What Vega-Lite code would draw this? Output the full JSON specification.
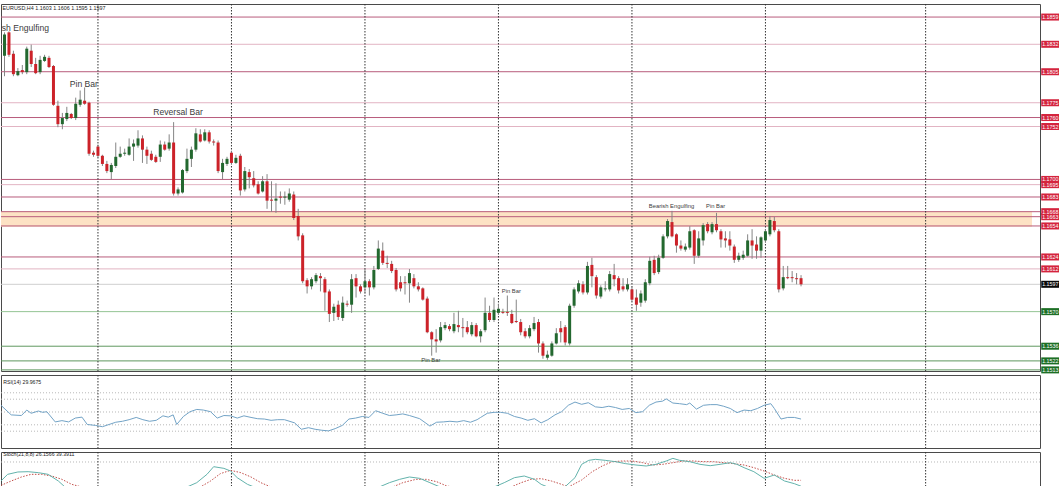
{
"$schema":"https://vega.github.io/schema/vega-lite/v6.json",
"padding":{"left":0,"top":3,"right":0,"bottom":0},
"background":"white",
"bounds":"flush",
"spacing":4,
"config":{"view":{"stroke":"#4a4a4a","strokeWidth":1},"text":{"font":"Liberation Sans"},"axis":{"labelFont":"Liberation Sans"}},
"datasets":{
"candles":[
{"i":0,"o":1.1821,"h":1.1844,"l":1.1801,"c":1.1842},{"i":1,"o":1.1844,"h":1.1845,"l":1.1820,"c":1.1822},{"i":2,"o":1.1823,"h":1.1826,"l":1.1801,"c":1.1803},{"i":3,"o":1.1802,"h":1.1809,"l":1.1801,"c":1.1806},{"i":4,"o":1.1807,"h":1.1812,"l":1.1803,"c":1.1805},{"i":5,"o":1.1805,"h":1.1830,"l":1.1803,"c":1.1828},{"i":6,"o":1.1826,"h":1.1832,"l":1.1810,"c":1.1813},{"i":7,"o":1.1813,"h":1.1819,"l":1.1803,"c":1.1804},{"i":8,"o":1.1805,"h":1.1821,"l":1.1803,"c":1.1817},{"i":9,"o":1.1816,"h":1.1822,"l":1.1815,"c":1.1820},
{"i":10,"o":1.1819,"h":1.1821,"l":1.1809,"c":1.1810},{"i":11,"o":1.1811,"h":1.1812,"l":1.1772,"c":1.1773},{"i":12,"o":1.1772,"h":1.1777,"l":1.1751,"c":1.1754},{"i":13,"o":1.1754,"h":1.1765,"l":1.1749,"c":1.1760},{"i":14,"o":1.1759,"h":1.1771,"l":1.1757,"c":1.1765},{"i":15,"o":1.1764,"h":1.1765,"l":1.1759,"c":1.1760},{"i":16,"o":1.1760,"h":1.1780,"l":1.1758,"c":1.1774},{"i":17,"o":1.1773,"h":1.1787,"l":1.1771,"c":1.1778},{"i":18,"o":1.1777,"h":1.1790,"l":1.1773,"c":1.1774},{"i":19,"o":1.1775,"h":1.1776,"l":1.1723,"c":1.1725},
{"i":20,"o":1.1726,"h":1.1728,"l":1.1722,"c":1.1724},{"i":21,"o":1.1732,"h":1.1734,"l":1.1721,"c":1.1723},{"i":22,"o":1.1723,"h":1.1724,"l":1.1713,"c":1.1715},{"i":23,"o":1.1715,"h":1.1718,"l":1.1706,"c":1.1708},{"i":24,"o":1.1707,"h":1.1716,"l":1.1700,"c":1.1714},{"i":25,"o":1.1713,"h":1.1736,"l":1.1711,"c":1.1722},{"i":26,"o":1.1722,"h":1.1732,"l":1.1721,"c":1.1725},{"i":27,"o":1.1725,"h":1.1730,"l":1.1723,"c":1.1726},{"i":28,"o":1.1724,"h":1.1740,"l":1.1723,"c":1.1732},{"i":29,"o":1.1732,"h":1.1739,"l":1.1718,"c":1.1735},
{"i":30,"o":1.1733,"h":1.1748,"l":1.1731,"c":1.1740},{"i":31,"o":1.1740,"h":1.1743,"l":1.1716,"c":1.1729},{"i":32,"o":1.1729,"h":1.1732,"l":1.1715,"c":1.1723},{"i":33,"o":1.1725,"h":1.1728,"l":1.1718,"c":1.1719},{"i":34,"o":1.1722,"h":1.1724,"l":1.1716,"c":1.1717},{"i":35,"o":1.1722,"h":1.1738,"l":1.1717,"c":1.1734},{"i":36,"o":1.1734,"h":1.1737,"l":1.1728,"c":1.1729},{"i":37,"o":1.1730,"h":1.1744,"l":1.1728,"c":1.1736},{"i":38,"o":1.1736,"h":1.1756,"l":1.1684,"c":1.1686},{"i":39,"o":1.1686,"h":1.1692,"l":1.1684,"c":1.1690},
{"i":40,"o":1.1687,"h":1.1710,"l":1.1686,"c":1.1709},{"i":41,"o":1.1708,"h":1.1730,"l":1.1706,"c":1.1720},{"i":42,"o":1.1720,"h":1.1732,"l":1.1712,"c":1.1729},{"i":43,"o":1.1729,"h":1.1750,"l":1.1727,"c":1.1745},{"i":44,"o":1.1744,"h":1.1749,"l":1.1736,"c":1.1737},{"i":45,"o":1.1738,"h":1.1749,"l":1.1737,"c":1.1746},{"i":46,"o":1.1746,"h":1.1748,"l":1.1735,"c":1.1737},{"i":47,"o":1.1737,"h":1.1739,"l":1.1733,"c":1.1736},{"i":48,"o":1.1736,"h":1.1738,"l":1.1706,"c":1.1708},{"i":49,"o":1.1707,"h":1.1720,"l":1.1700,"c":1.1716},
{"i":50,"o":1.1715,"h":1.1722,"l":1.1713,"c":1.1720},{"i":51,"o":1.1726,"h":1.1728,"l":1.1715,"c":1.1716},{"i":52,"o":1.1716,"h":1.1724,"l":1.1715,"c":1.1721},{"i":53,"o":1.1723,"h":1.1725,"l":1.1684,"c":1.1689},{"i":54,"o":1.1690,"h":1.1712,"l":1.1688,"c":1.1708},{"i":55,"o":1.1707,"h":1.1710,"l":1.1691,"c":1.1702},{"i":56,"o":1.1701,"h":1.1708,"l":1.1692,"c":1.1694},{"i":57,"o":1.1695,"h":1.1698,"l":1.1685,"c":1.1686},{"i":58,"o":1.1688,"h":1.1703,"l":1.1687,"c":1.1698},{"i":59,"o":1.1698,"h":1.1705,"l":1.1671,"c":1.1679},
{"i":60,"o":1.1680,"h":1.1698,"l":1.1668,"c":1.1679},{"i":61,"o":1.1679,"h":1.1696,"l":1.1667,"c":1.1681},{"i":62,"o":1.1683,"h":1.1688,"l":1.1676,"c":1.1682},{"i":63,"o":1.1682,"h":1.1688,"l":1.1675,"c":1.1683},{"i":64,"o":1.1680,"h":1.1691,"l":1.1678,"c":1.1686},{"i":65,"o":1.1685,"h":1.1688,"l":1.1660,"c":1.1662},{"i":66,"o":1.1664,"h":1.1671,"l":1.1640,"c":1.1644},{"i":67,"o":1.1645,"h":1.1647,"l":1.1598,"c":1.1600},{"i":68,"o":1.1601,"h":1.1603,"l":1.1588,"c":1.1595},{"i":69,"o":1.1595,"h":1.1604,"l":1.1592,"c":1.1602},
{"i":70,"o":1.1600,"h":1.1608,"l":1.1598,"c":1.1606},{"i":71,"o":1.1605,"h":1.1608,"l":1.1590,"c":1.1603},{"i":72,"o":1.1602,"h":1.1604,"l":1.1571,"c":1.1589},{"i":73,"o":1.1590,"h":1.1592,"l":1.1560,"c":1.1568},{"i":74,"o":1.1569,"h":1.1578,"l":1.1561,"c":1.1575},{"i":75,"o":1.1577,"h":1.1581,"l":1.1562,"c":1.1565},{"i":76,"o":1.1564,"h":1.1585,"l":1.1561,"c":1.1579},{"i":77,"o":1.1578,"h":1.1581,"l":1.1575,"c":1.1577},{"i":78,"o":1.1577,"h":1.1607,"l":1.1569,"c":1.1602},{"i":79,"o":1.1603,"h":1.1607,"l":1.1584,"c":1.1595},
{"i":80,"o":1.1595,"h":1.1597,"l":1.1588,"c":1.1590},{"i":81,"o":1.1594,"h":1.1612,"l":1.1588,"c":1.1600},{"i":82,"o":1.1600,"h":1.1602,"l":1.1586,"c":1.1594},{"i":83,"o":1.1594,"h":1.1615,"l":1.1592,"c":1.1611},{"i":84,"o":1.1612,"h":1.1640,"l":1.1611,"c":1.1632},{"i":85,"o":1.1630,"h":1.1638,"l":1.1616,"c":1.1618},{"i":86,"o":1.1618,"h":1.1625,"l":1.1613,"c":1.1617},{"i":87,"o":1.1617,"h":1.1620,"l":1.1608,"c":1.1610},{"i":88,"o":1.1611,"h":1.1613,"l":1.1590,"c":1.1592},{"i":89,"o":1.1599,"h":1.1605,"l":1.1590,"c":1.1593},
{"i":90,"o":1.1599,"h":1.1605,"l":1.1587,"c":1.1598},{"i":91,"o":1.1598,"h":1.1612,"l":1.1579,"c":1.1608},{"i":92,"o":1.1603,"h":1.1607,"l":1.1593,"c":1.1595},{"i":93,"o":1.1595,"h":1.1599,"l":1.1590,"c":1.1592},{"i":94,"o":1.1593,"h":1.1594,"l":1.1581,"c":1.1582},{"i":95,"o":1.1583,"h":1.1585,"l":1.1549,"c":1.1550},{"i":96,"o":1.1550,"h":1.1551,"l":1.1527,"c":1.1543},{"i":97,"o":1.1543,"h":1.1553,"l":1.1530,"c":1.1541},{"i":98,"o":1.1542,"h":1.1560,"l":1.1540,"c":1.1555},{"i":99,"o":1.1554,"h":1.1560,"l":1.1552,"c":1.1557},
{"i":100,"o":1.1556,"h":1.1558,"l":1.1551,"c":1.1553},{"i":101,"o":1.1551,"h":1.1569,"l":1.1549,"c":1.1558},{"i":102,"o":1.1557,"h":1.1571,"l":1.1550,"c":1.1555},{"i":103,"o":1.1555,"h":1.1564,"l":1.1545,"c":1.1554},{"i":104,"o":1.1555,"h":1.1561,"l":1.1548,"c":1.1550},{"i":105,"o":1.1548,"h":1.1560,"l":1.1546,"c":1.1557},{"i":106,"o":1.1557,"h":1.1559,"l":1.1545,"c":1.1546},{"i":107,"o":1.1546,"h":1.1553,"l":1.1540,"c":1.1551},{"i":108,"o":1.1552,"h":1.1584,"l":1.1550,"c":1.1569},{"i":109,"o":1.1569,"h":1.1576,"l":1.1560,"c":1.1562},
{"i":110,"o":1.1562,"h":1.1584,"l":1.1560,"c":1.1572},{"i":111,"o":1.1569,"h":1.1578,"l":1.1567,"c":1.1573},{"i":112,"o":1.1570,"h":1.1573,"l":1.1568,"c":1.1569},{"i":113,"o":1.1570,"h":1.1586,"l":1.1566,"c":1.1569},{"i":114,"o":1.1568,"h":1.1572,"l":1.1558,"c":1.1559},{"i":115,"o":1.1561,"h":1.1582,"l":1.1559,"c":1.1560},{"i":116,"o":1.1560,"h":1.1563,"l":1.1547,"c":1.1550},{"i":117,"o":1.1551,"h":1.1554,"l":1.1544,"c":1.1546},{"i":118,"o":1.1546,"h":1.1557,"l":1.1544,"c":1.1554},{"i":119,"o":1.1553,"h":1.1565,"l":1.1551,"c":1.1559},
{"i":120,"o":1.1560,"h":1.1563,"l":1.1530,"c":1.1539},{"i":121,"o":1.1539,"h":1.1541,"l":1.1524,"c":1.1527},{"i":122,"o":1.1525,"h":1.1532,"l":1.1523,"c":1.1528},{"i":123,"o":1.1527,"h":1.1541,"l":1.1526,"c":1.1539},{"i":124,"o":1.1539,"h":1.1554,"l":1.1538,"c":1.1549},{"i":125,"o":1.1554,"h":1.1561,"l":1.1540,"c":1.1550},{"i":126,"o":1.1555,"h":1.1557,"l":1.1537,"c":1.1540},{"i":127,"o":1.1539,"h":1.1578,"l":1.1537,"c":1.1576},{"i":128,"o":1.1576,"h":1.1594,"l":1.1574,"c":1.1592},{"i":129,"o":1.1590,"h":1.1601,"l":1.1588,"c":1.1598},
{"i":130,"o":1.1597,"h":1.1600,"l":1.1587,"c":1.1589},{"i":131,"o":1.1589,"h":1.1619,"l":1.1587,"c":1.1615},{"i":132,"o":1.1616,"h":1.1623,"l":1.1594,"c":1.1605},{"i":133,"o":1.1604,"h":1.1606,"l":1.1583,"c":1.1586},{"i":134,"o":1.1585,"h":1.1596,"l":1.1583,"c":1.1594},{"i":135,"o":1.1592,"h":1.1600,"l":1.1590,"c":1.1593},{"i":136,"o":1.1592,"h":1.1610,"l":1.1590,"c":1.1607},{"i":137,"o":1.1606,"h":1.1617,"l":1.1595,"c":1.1602},{"i":138,"o":1.1603,"h":1.1605,"l":1.1588,"c":1.1591},{"i":139,"o":1.1595,"h":1.1603,"l":1.1590,"c":1.1592},
{"i":140,"o":1.1592,"h":1.1603,"l":1.1590,"c":1.1597},{"i":141,"o":1.1592,"h":1.1595,"l":1.1580,"c":1.1582},{"i":142,"o":1.1584,"h":1.1592,"l":1.1571,"c":1.1577},{"i":143,"o":1.1579,"h":1.1591,"l":1.1575,"c":1.1588},{"i":144,"o":1.1581,"h":1.1602,"l":1.1579,"c":1.1599},{"i":145,"o":1.1598,"h":1.1624,"l":1.1596,"c":1.1620},{"i":146,"o":1.1621,"h":1.1625,"l":1.1606,"c":1.1608},{"i":147,"o":1.1609,"h":1.1626,"l":1.1607,"c":1.1623},{"i":148,"o":1.1623,"h":1.1646,"l":1.1622,"c":1.1644},{"i":149,"o":1.1644,"h":1.1661,"l":1.1642,"c":1.1659},
{"i":150,"o":1.1658,"h":1.1669,"l":1.1643,"c":1.1644},{"i":151,"o":1.1646,"h":1.1647,"l":1.1628,"c":1.1635},{"i":152,"o":1.1635,"h":1.1640,"l":1.1630,"c":1.1632},{"i":153,"o":1.1631,"h":1.1637,"l":1.1629,"c":1.1634},{"i":154,"o":1.1633,"h":1.1654,"l":1.1631,"c":1.1649},{"i":155,"o":1.1650,"h":1.1651,"l":1.1617,"c":1.1625},{"i":156,"o":1.1625,"h":1.1649,"l":1.1623,"c":1.1642},{"i":157,"o":1.1640,"h":1.1657,"l":1.1635,"c":1.1655},{"i":158,"o":1.1656,"h":1.1658,"l":1.1647,"c":1.1649},{"i":159,"o":1.1648,"h":1.1658,"l":1.1646,"c":1.1656},
{"i":160,"o":1.1656,"h":1.1667,"l":1.1648,"c":1.1650},{"i":161,"o":1.1649,"h":1.1651,"l":1.1633,"c":1.1641},{"i":162,"o":1.1642,"h":1.1649,"l":1.1633,"c":1.1640},{"i":163,"o":1.1641,"h":1.1649,"l":1.1630,"c":1.1635},{"i":164,"o":1.1634,"h":1.1636,"l":1.1618,"c":1.1621},{"i":165,"o":1.1621,"h":1.1628,"l":1.1619,"c":1.1625},{"i":166,"o":1.1623,"h":1.1630,"l":1.1621,"c":1.1626},{"i":167,"o":1.1625,"h":1.1646,"l":1.1624,"c":1.1640},{"i":168,"o":1.1640,"h":1.1651,"l":1.1622,"c":1.1635},{"i":169,"o":1.1636,"h":1.1644,"l":1.1622,"c":1.1630},
{"i":170,"o":1.1630,"h":1.1644,"l":1.1623,"c":1.1643},{"i":171,"o":1.1640,"h":1.1651,"l":1.1638,"c":1.1649},{"i":172,"o":1.1646,"h":1.1664,"l":1.1644,"c":1.1660},{"i":173,"o":1.1659,"h":1.1663,"l":1.1648,"c":1.1650},{"i":174,"o":1.1649,"h":1.1651,"l":1.1589,"c":1.1592},{"i":175,"o":1.1593,"h":1.1615,"l":1.1591,"c":1.1604},{"i":176,"o":1.1604,"h":1.1615,"l":1.1602,"c":1.1603},{"i":177,"o":1.1604,"h":1.1610,"l":1.1599,"c":1.1603},{"i":178,"o":1.1603,"h":1.1608,"l":1.1597,"c":1.1602},{"i":179,"o":1.1603,"h":1.1606,"l":1.1595,"c":1.1597}
],
"levels":[
{"p":1.1859,"lbl":"1.1859","kind":"resistance-major"},{"p":1.18323,"lbl":"1.1832","kind":"resistance-minor"},{"p":1.18054,"lbl":"1.1805","kind":"resistance-major"},{"p":1.1775,"lbl":"1.1775","kind":"resistance-minor"},{"p":1.17605,"lbl":"1.1760","kind":"resistance-major"},{"p":1.17517,"lbl":"1.1752","kind":"resistance-minor"},{"p":1.16998,"lbl":"1.1700","kind":"resistance-major"},{"p":1.16947,"lbl":"1.1695","kind":"resistance-minor"},{"p":1.16826,"lbl":"1.1683","kind":"resistance-major"},{"p":1.16682,"lbl":"1.1668","kind":"resistance-major"},{"p":1.16633,"lbl":"1.1663","kind":"resistance-major"},{"p":1.16542,"lbl":"1.1654","kind":"resistance-major"},{"p":1.16238,"lbl":"1.1624","kind":"resistance-major"},{"p":1.16121,"lbl":"1.1612","kind":"resistance-minor"},{"p":1.1597,"lbl":"1.1597","kind":"price"},{"p":1.15702,"lbl":"1.1570","kind":"support-minor"},{"p":1.15363,"lbl":"1.1536","kind":"support-major"},{"p":1.15219,"lbl":"1.1522","kind":"support-major"},{"p":1.15131,"lbl":"1.1513","kind":"support-major"}
],
"grid":[{"g":21},{"g":51},{"g":81},{"g":111},{"g":141},{"g":171},{"g":207}],
"zone":[{"x0":-0.79,"x1":230.9,"p0":1.16535,"p1":1.16686}],
"notesBig":[{"i":2.45,"p":1.18482,"t":"Bearish Engulfing"},{"i":17.83,"p":1.17937,"t":"Pin Bar"},{"i":39.0,"p":1.17659,"t":"Reversal Bar"}],
"notesSmall":[{"i":149.9,"p":1.16738,"t":"Bearish Engulfing"},{"i":159.8,"p":1.16738,"t":"Pin Bar"},{"i":113.9,"p":1.15908,"t":"Pin Bar"},{"i":95.8,"p":1.15232,"t":"Pin Bar"}],
"title":[{"i":-0.45,"p":1.18678,"t":"EURUSD,H4  1.1603 1.1606 1.1595 1.1597"}],
"rsi":[{"i":-0.8,"v":60.5},{"i":1.5,"v":45.5},{"i":3.8,"v":44.5},{"i":5,"v":53},{"i":6,"v":48},{"i":7.6,"v":51.5},{"i":8.6,"v":49.5},{"i":9.5,"v":50.5},{"i":11.4,"v":34.5},{"i":12.9,"v":36.5},{"i":14.4,"v":34.5},{"i":15.9,"v":40.5},{"i":17.4,"v":42},{"i":18.6,"v":30.5},{"i":20.5,"v":29},{"i":22,"v":27},{"i":23.5,"v":30.5},{"i":25,"v":34},{"i":26.5,"v":35.5},{"i":28,"v":38},{"i":29.6,"v":41.5},{"i":31.1,"v":38},{"i":32.6,"v":35.5},{"i":34.1,"v":37},{"i":35.6,"v":44},{"i":36.8,"v":42},{"i":37.9,"v":45.5},{"i":38.7,"v":30.5},{"i":40.2,"v":43},{"i":41.7,"v":50.5},{"i":43.2,"v":54},{"i":44.7,"v":53},{"i":46.3,"v":50.5},{"i":47.8,"v":40.5},{"i":49.3,"v":44.5},{"i":50.8,"v":44},{"i":52.3,"v":40.5},{"i":53.8,"v":44},{"i":55.4,"v":41.5},{"i":56.9,"v":39.5},{"i":58.4,"v":39},{"i":59.9,"v":37},{"i":61.4,"v":38},{"i":62.9,"v":38},{"i":65.2,"v":33},{"i":66.7,"v":23},{"i":68.3,"v":25.5},{"i":69.8,"v":23},{"i":71.3,"v":21.5},{"i":72.8,"v":20.5},{"i":74.3,"v":24},{"i":75.9,"v":29},{"i":77.4,"v":39},{"i":78.9,"v":40.5},{"i":80.4,"v":43},{"i":81.9,"v":41.5},{"i":83.4,"v":52},{"i":85,"v":48},{"i":86.5,"v":44.5},{"i":88,"v":45.5},{"i":89.5,"v":47},{"i":91,"v":44.5},{"i":93.3,"v":39.5},{"i":95.6,"v":28},{"i":97.1,"v":34},{"i":98.6,"v":34.5},{"i":100.1,"v":35.5},{"i":101.7,"v":34.5},{"i":103.2,"v":36.5},{"i":104.7,"v":34},{"i":106.2,"v":38},{"i":107,"v":41.5},{"i":108.5,"v":48},{"i":110,"v":49.5},{"i":111.5,"v":49.5},{"i":113,"v":48},{"i":114.6,"v":43},{"i":116.1,"v":40.5},{"i":117.6,"v":37},{"i":119.1,"v":39.5},{"i":120.6,"v":33},{"i":122.1,"v":38},{"i":123.7,"v":45.5},{"i":125.2,"v":50.5},{"i":126.7,"v":60.5},{"i":128.2,"v":65.5},{"i":129.7,"v":62},{"i":131.2,"v":64.5},{"i":132.8,"v":58},{"i":134.3,"v":57},{"i":135.8,"v":59},{"i":137.3,"v":57},{"i":138.8,"v":54},{"i":140.4,"v":55.5},{"i":141.9,"v":49},{"i":143.4,"v":50.5},{"i":144.9,"v":60.5},{"i":146.4,"v":65.5},{"i":147.9,"v":67},{"i":148.7,"v":70.5},{"i":150.2,"v":64},{"i":151.7,"v":63},{"i":153.3,"v":61.5},{"i":154,"v":64},{"i":155.5,"v":54.5},{"i":157.1,"v":60.5},{"i":158.6,"v":61.5},{"i":160.1,"v":61.5},{"i":161.6,"v":59},{"i":163.1,"v":55.5},{"i":164.6,"v":49},{"i":166.2,"v":53},{"i":167.7,"v":52},{"i":169.2,"v":55.5},{"i":170.7,"v":60.5},{"i":172.2,"v":63},{"i":173,"v":55.5},{"i":174.5,"v":39},{"i":176,"v":41.5},{"i":177.5,"v":41.5},{"i":179,"v":39}],
"stochMain":[{"i":-0.8,"v":37.8},{"i":0.7,"v":52.6},{"i":3,"v":57.8},{"i":5.3,"v":58.5},{"i":7.6,"v":56.3},{"i":9.8,"v":52.6},{"i":12.1,"v":37.8},{"i":13.6,"v":24.4},{"i":15.9,"v":15},{"i":20.5,"v":8},{"i":26.5,"v":6},{"i":34.1,"v":12},{"i":38.7,"v":18},{"i":41,"v":24.4},{"i":43.2,"v":34.1},{"i":45.5,"v":52.6},{"i":47,"v":69.6},{"i":49.3,"v":65.9},{"i":50.8,"v":60},{"i":52.3,"v":45.2},{"i":54.6,"v":30.4},{"i":56.1,"v":24.4},{"i":60,"v":15},{"i":66,"v":6},{"i":72,"v":2},{"i":78,"v":5},{"i":82,"v":14},{"i":84.2,"v":24.4},{"i":86.5,"v":34.1},{"i":88.8,"v":41.5},{"i":91,"v":46.7},{"i":93.3,"v":43.7},{"i":95.6,"v":34.1},{"i":97.9,"v":24.4},{"i":101,"v":16},{"i":104,"v":14},{"i":107,"v":18},{"i":110,"v":24.4},{"i":112.3,"v":34.1},{"i":114.6,"v":45.2},{"i":116.8,"v":48.9},{"i":119.1,"v":41.5},{"i":120.6,"v":30.4},{"i":122.1,"v":24.4},{"i":124,"v":18},{"i":125.9,"v":24.4},{"i":128.2,"v":45.2},{"i":129.7,"v":74.8},{"i":131.3,"v":83.7},{"i":132.8,"v":85.9},{"i":135,"v":83.7},{"i":137.3,"v":80.7},{"i":139.6,"v":76.3},{"i":141.9,"v":73.3},{"i":144.2,"v":71.1},{"i":146.4,"v":74.8},{"i":148.7,"v":82.2},{"i":150.2,"v":88.1},{"i":151.7,"v":83.7},{"i":154,"v":80.7},{"i":156.3,"v":74.8},{"i":158.6,"v":71.8},{"i":160.8,"v":74.8},{"i":163.1,"v":78.5},{"i":164.6,"v":74.8},{"i":166.2,"v":67.4},{"i":168.4,"v":58.5},{"i":170.7,"v":43.7},{"i":173,"v":51.1},{"i":175.3,"v":37.8},{"i":177.5,"v":31.9},{"i":179,"v":26.2}],
"stochSignal":[{"i":-0.8,"v":28},{"i":1.5,"v":37.8},{"i":3.8,"v":46.7},{"i":6,"v":52.6},{"i":8.3,"v":52.6},{"i":10.6,"v":48.9},{"i":12.9,"v":41.5},{"i":15.1,"v":30.4},{"i":17.4,"v":24.4},{"i":22,"v":14},{"i":30,"v":9},{"i":38,"v":10},{"i":44,"v":24.4},{"i":46.3,"v":37.8},{"i":48.5,"v":54.1},{"i":50.8,"v":61.5},{"i":53.1,"v":56.3},{"i":55.4,"v":46.7},{"i":57.6,"v":34.1},{"i":59.9,"v":24.4},{"i":66,"v":12},{"i":74,"v":6},{"i":82,"v":9},{"i":87.2,"v":24.4},{"i":89.5,"v":34.1},{"i":92.5,"v":41.5},{"i":94.8,"v":41.5},{"i":97.1,"v":36.3},{"i":99.4,"v":26.7},{"i":100.9,"v":24.4},{"i":106,"v":18},{"i":110,"v":19},{"i":113.8,"v":24.4},{"i":116.1,"v":34.1},{"i":118.3,"v":41.5},{"i":120.6,"v":43},{"i":122.9,"v":37.8},{"i":125.2,"v":30.4},{"i":126.7,"v":24.4},{"i":129.7,"v":40},{"i":132,"v":58},{"i":134.3,"v":71.1},{"i":136.6,"v":80.7},{"i":138.8,"v":82.2},{"i":141.1,"v":82.2},{"i":143.4,"v":78.5},{"i":145.7,"v":73.3},{"i":147.9,"v":74.8},{"i":150.2,"v":78.5},{"i":152.5,"v":82.2},{"i":154.8,"v":82.2},{"i":157.1,"v":80.7},{"i":159.3,"v":80.7},{"i":161.6,"v":78.5},{"i":163.9,"v":76.3},{"i":166.2,"v":73.3},{"i":168.4,"v":67.4},{"i":170.7,"v":60},{"i":173,"v":51.1},{"i":175.3,"v":43.7},{"i":177.5,"v":39.3},{"i":179,"v":39.4}]
},
"vconcat":[
{"width":1039,"height":367,
"layer":[
{"data":{"name":"zone"},"mark":{"type":"rect","color":"#fde2c4"},
"encoding":{"x":{"field":"x0","type":"quantitative","scale":{"domain":[-0.79,232.7],"nice":false,"zero":false,"padding":0},"axis":null},"x2":{"field":"x1"},
"y":{"field":"p0","type":"quantitative","scale":{"domain":[1.1512,1.18718],"nice":false,"zero":false,"padding":0},"axis":null},"y2":{"field":"p1"}}},
{"data":{"name":"levels"},"mark":{"type":"rule"},
"encoding":{"y":{"field":"p","type":"quantitative","scale":{"domain":[1.1512,1.18718],"nice":false,"zero":false,"padding":0},
"axis":{"orient":"right","title":null,"values":[1.1535,1.1555,1.1575,1.1595,1.1615,1.1635,1.1655,1.1675,1.1695,1.1715,1.1735,1.1755,1.1775,1.1795,1.1815,1.1835,1.1855],"format":".4f","domain":false,"grid":false,"ticks":true,"tickSize":2,"tickColor":"#555","labelFontSize":5.4,"labelColor":"#333","labelPadding":1,"labelOverlap":false,"labelBound":false,"labelFlush":false}},
"color":{"field":"kind","type":"nominal","scale":{"domain":["resistance-major","resistance-minor","price","support-minor","support-major"],"range":["#b85c7c","#e2b4c3","#cfcfcf","#94c494","#5f985f"]},"legend":null},
"strokeWidth":{"field":"kind","type":"ordinal","scale":{"domain":["resistance-major","resistance-minor","price","support-minor","support-major"],"range":[1,1,1,2,1]},"legend":null}}},
{"data":{"name":"grid"},"mark":{"type":"rule","color":"#333","strokeDash":[1.5,1.5],"strokeWidth":1},
"encoding":{"x":{"field":"g","type":"quantitative","scale":{"domain":[-0.79,232.7],"nice":false,"zero":false,"padding":0},"axis":null}}},
{"data":{"name":"candles"},"mark":{"type":"rule","color":"#858585","strokeWidth":1},
"encoding":{"x":{"field":"i","type":"quantitative","scale":{"domain":[-0.79,232.7],"nice":false,"zero":false,"padding":0},"axis":null},
"y":{"field":"l","type":"quantitative","scale":{"domain":[1.1512,1.18718],"nice":false,"zero":false,"padding":0},"axis":null},"y2":{"field":"h"}}},
{"data":{"name":"candles"},"mark":{"type":"bar","width":3},
"encoding":{"x":{"field":"i","type":"quantitative","scale":{"domain":[-0.79,232.7],"nice":false,"zero":false,"padding":0},"axis":null},
"y":{"field":"o","type":"quantitative","scale":{"domain":[1.1512,1.18718],"nice":false,"zero":false,"padding":0},"axis":null},"y2":{"field":"c"},
"color":{"condition":{"test":"datum.c >= datum.o","value":"#23682f"},"value":"#cc2229"}}},
{"data":{"name":"notesBig"},"mark":{"type":"text","fontSize":8.6,"color":"#3c3c3c","align":"center","baseline":"middle","clip":true},
"encoding":{"x":{"field":"i","type":"quantitative","scale":{"domain":[-0.79,232.7],"nice":false,"zero":false,"padding":0},"axis":null},
"y":{"field":"p","type":"quantitative","scale":{"domain":[1.1512,1.18718],"nice":false,"zero":false,"padding":0},"axis":null},"text":{"field":"t"}}},
{"data":{"name":"notesSmall"},"mark":{"type":"text","fontSize":5.8,"color":"#3c3c3c","align":"center","baseline":"middle"},
"encoding":{"x":{"field":"i","type":"quantitative","scale":{"domain":[-0.79,232.7],"nice":false,"zero":false,"padding":0},"axis":null},
"y":{"field":"p","type":"quantitative","scale":{"domain":[1.1512,1.18718],"nice":false,"zero":false,"padding":0},"axis":null},"text":{"field":"t"}}},
{"data":{"name":"levels"},"mark":{"type":"point","shape":"M-1,-0.39L1,-0.39L1,0.39L-1,0.39Z","filled":true,"size":324,"opacity":1,"strokeWidth":0},
"encoding":{"x":{"datum":235,"type":"quantitative","scale":{"domain":[-0.79,232.7],"nice":false,"zero":false,"padding":0},"axis":null},
"y":{"field":"p","type":"quantitative","scale":{"domain":[1.1512,1.18718],"nice":false,"zero":false,"padding":0},"axis":null},
"fill":{"field":"kind","type":"nominal","scale":{"domain":["resistance-major","resistance-minor","price","support-minor","support-major"],"range":["#d4243e","#d4243e","#0a0a0a","#1d6f25","#1d6f25"]},"legend":null}}},
{"data":{"name":"levels"},"mark":{"type":"text","fontSize":5.3,"color":"#ffffff","align":"center","baseline":"middle"},
"encoding":{"x":{"datum":235,"type":"quantitative","scale":{"domain":[-0.79,232.7],"nice":false,"zero":false,"padding":0},"axis":null},
"y":{"field":"p","type":"quantitative","scale":{"domain":[1.1512,1.18718],"nice":false,"zero":false,"padding":0},"axis":null},"text":{"field":"lbl"}}},
{"data":{"name":"title"},"mark":{"type":"text","fontSize":5.4,"color":"#222","align":"left","baseline":"middle"},
"encoding":{"x":{"field":"i","type":"quantitative","scale":{"domain":[-0.79,232.7],"nice":false,"zero":false,"padding":0},"axis":null},
"y":{"field":"p","type":"quantitative","scale":{"domain":[1.1512,1.18718],"nice":false,"zero":false,"padding":0},"axis":null},"text":{"field":"t"}}}
]},
{"width":1039,"height":73,
"layer":[
{"data":{"values":[{"v":20},{"v":30},{"v":50},{"v":70},{"v":80}]},"mark":{"type":"rule","color":"#b8b8b8","strokeDash":[1,2],"strokeWidth":1},
"encoding":{"y":{"field":"v","type":"quantitative","scale":{"domain":[-6.25,107.8],"nice":false,"zero":false,"padding":0},
"axis":{"orient":"right","title":null,"values":[0,20,30,50,70,80,100],"format":"d","domain":false,"grid":false,"ticks":true,"tickSize":2,"tickColor":"#555","labelFontSize":5.4,"labelColor":"#333","labelPadding":1,"labelOverlap":false,"labelBound":false,"labelFlush":false}}}},
{"data":{"name":"grid"},"mark":{"type":"rule","color":"#333","strokeDash":[1.5,1.5],"strokeWidth":1},
"encoding":{"x":{"field":"g","type":"quantitative","scale":{"domain":[-0.79,232.7],"nice":false,"zero":false,"padding":0},"axis":null}}},
{"data":{"name":"rsi"},"mark":{"type":"line","color":"#72a3c6","strokeWidth":1,"clip":true},
"encoding":{"x":{"field":"i","type":"quantitative","scale":{"domain":[-0.79,232.7],"nice":false,"zero":false,"padding":0},"axis":null},
"y":{"field":"v","type":"quantitative","scale":{"domain":[-6.25,107.8],"nice":false,"zero":false,"padding":0},"axis":null}}},
{"data":{"values":[{"i":-0.3,"v":97.3,"t":"RSI(14) 29.9675"}]},"mark":{"type":"text","fontSize":5.2,"color":"#222","align":"left","baseline":"middle"},
"encoding":{"x":{"field":"i","type":"quantitative","scale":{"domain":[-0.79,232.7],"nice":false,"zero":false,"padding":0},"axis":null},
"y":{"field":"v","type":"quantitative","scale":{"domain":[-6.25,107.8],"nice":false,"zero":false,"padding":0},"axis":null},"text":{"field":"t"}}}
]},
{"width":1039,"height":34,
"layer":[
{"data":{"values":[{"v":80}]},"mark":{"type":"rule","color":"#b8b8b8","strokeDash":[1,2],"strokeWidth":1},
"encoding":{"y":{"field":"v","type":"quantitative","scale":{"domain":[26.7,102.2],"nice":false,"zero":false,"padding":0},
"axis":{"orient":"right","title":null,"values":[80,100],"format":"d","domain":false,"grid":false,"ticks":true,"tickSize":2,"tickColor":"#555","labelFontSize":5.4,"labelColor":"#333","labelPadding":1,"labelOverlap":false,"labelBound":false,"labelFlush":false}}}},
{"data":{"name":"grid"},"mark":{"type":"rule","color":"#333","strokeDash":[1.5,1.5],"strokeWidth":1},
"encoding":{"x":{"field":"g","type":"quantitative","scale":{"domain":[-0.79,232.7],"nice":false,"zero":false,"padding":0},"axis":null}}},
{"data":{"name":"stochSignal"},"mark":{"type":"line","color":"#c24f4a","strokeWidth":1,"strokeDash":[1.5,1.5],"clip":true},
"encoding":{"x":{"field":"i","type":"quantitative","scale":{"domain":[-0.79,232.7],"nice":false,"zero":false,"padding":0},"axis":null},
"y":{"field":"v","type":"quantitative","scale":{"domain":[26.7,102.2],"nice":false,"zero":false,"padding":0},"axis":null}}},
{"data":{"name":"stochMain"},"mark":{"type":"line","color":"#63b3ac","strokeWidth":1,"clip":true},
"encoding":{"x":{"field":"i","type":"quantitative","scale":{"domain":[-0.79,232.7],"nice":false,"zero":false,"padding":0},"axis":null},
"y":{"field":"v","type":"quantitative","scale":{"domain":[26.7,102.2],"nice":false,"zero":false,"padding":0},"axis":null}}},
{"data":{"values":[{"i":-0.3,"v":97.1,"t":"Stoch(21,8,8) 26.1566 39.3911"}]},"mark":{"type":"text","fontSize":5.2,"color":"#222","align":"left","baseline":"middle"},
"encoding":{"x":{"field":"i","type":"quantitative","scale":{"domain":[-0.79,232.7],"nice":false,"zero":false,"padding":0},"axis":null},
"y":{"field":"v","type":"quantitative","scale":{"domain":[26.7,102.2],"nice":false,"zero":false,"padding":0},"axis":null},"text":{"field":"t"}}}
]}
]
}
